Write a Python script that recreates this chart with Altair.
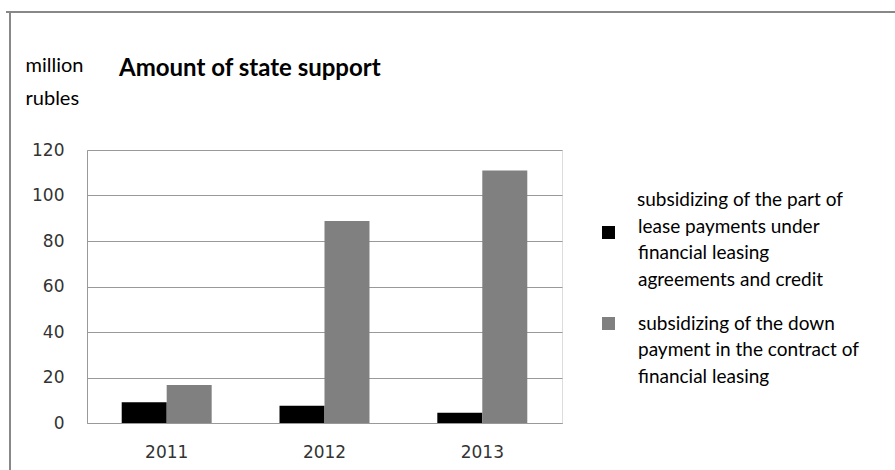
import altair as alt
import pandas as pd

chart_title = "Amount of state support"
unit_lines = ["million", "rubles"]
years = ["2011", "2012", "2013"]
series_names = [
    "subsidizing of the part of|lease payments under|financial leasing|agreements and credit",
    "subsidizing of the down|payment in the contract of|financial leasing",
]
series_colors = ["#000000", "#808080"]
lease_payments = [9.1, 7.6, 4.5]
down_payment = [16.7, 88.8, 111.0]
y_ticks = [0, 20, 40, 60, 80, 100, 120]

rows = []
for i, yr in enumerate(years):
    rows.append({"year": yr, "series": series_names[0], "value": lease_payments[i]})
    rows.append({"year": yr, "series": series_names[1], "value": down_payment[i]})
df = pd.DataFrame(rows)

W, H = 475, 273
PAD_L, PAD_T = 87, 150
TXT_FONT = "Lato"
LEG_SIZE = 19

base = alt.Chart(df).mark_bar(size=45).encode(
    x=alt.X("year:N", sort=years,
            scale=alt.Scale(paddingInner=0.43, paddingOuter=0.22),
            axis=alt.Axis(title=None, labelAngle=0, ticks=False, grid=False,
                          domainColor="#999999", labelPadding=21,
                          labelFont="DejaVu Sans", labelFontSize=17, labelColor="#333333")),
    xOffset=alt.XOffset("series:N", scale=alt.Scale(domain=series_names)),
    y=alt.Y("value:Q", scale=alt.Scale(domain=[0, 120], nice=False),
            axis=alt.Axis(values=y_ticks, ticks=False, grid=True, gridColor="#999999",
                          domainColor="#999999", labelPadding=23,
                          labelFont="DejaVu Sans", labelFontSize=17, labelColor="#333333",
                          title=unit_lines, titleAngle=0, titleAlign="left",
                          titleBaseline="alphabetic", titleX=-62, titleY=-79,
                          titleFont=TXT_FONT, titleFontSize=20, titleFontWeight="normal",
                          titleColor="#000000", titleLineHeight=33)),
)

first_title = series_names[0].split("|")[0]

bars_a = base.transform_filter(alt.datum.series == series_names[0]).encode(
    color=alt.Color("series:N",
                    scale=alt.Scale(domain=[series_names[0]], range=[series_colors[0]]),
                    legend=alt.Legend(title=first_title, orient="none",
                                      legendX=550, legendY=41,
                                      titleFont=TXT_FONT, titleFontSize=LEG_SIZE,
                                      titleFontWeight="normal", titleColor="#000000",
                                      titleLimit=400, titlePadding=13,
                                      labelExpr="slice(split(datum.label, '|'), 1)",
                                      labelBaseline="alphabetic",
                                      symbolType="square", symbolSize=169,
                                      symbolStrokeWidth=0, symbolOffset={"expr": "-38"},
                                      labelOffset=20,
                                      labelFont=TXT_FONT, labelFontSize=LEG_SIZE,
                                      labelLimit=400, labelColor="#000000", padding=0)),
)
bars_b = base.transform_filter(alt.datum.series == series_names[1]).encode(
    color=alt.Color("series:N",
                    scale=alt.Scale(domain=[series_names[1]], range=[series_colors[1]]),
                    legend=alt.Legend(title=None, orient="none",
                                      legendX=550, legendY=164,
                                      labelExpr="split(datum.label, '|')",
                                      labelBaseline="middle",
                                      symbolType="square", symbolSize=169,
                                      symbolStrokeWidth=0, symbolOffset={"expr": "-38"},
                                      labelOffset=20,
                                      labelFont=TXT_FONT, labelFontSize=LEG_SIZE,
                                      labelLimit=400, labelColor="#000000", padding=0)),
)

title_mark = alt.Chart(alt.Data(values=[{"t": chart_title}])).mark_text(
    align="left", baseline="alphabetic", font=TXT_FONT, fontSize=24,
    fontWeight="bold", color="#000000",
).encode(text="t:N", x=alt.value(32), y=alt.value(-74))

frame_data = alt.Data(values=[{"k": 1}])
frame_top = alt.Chart(frame_data).mark_rule(color="#888888", strokeWidth=2).encode(
    x=alt.value(10 - PAD_L - 4), x2=alt.value(895 - PAD_L),
    y=alt.value(12 - PAD_T), y2=alt.value(12 - PAD_T))
frame_left = alt.Chart(frame_data).mark_rule(color="#888888", strokeWidth=2).encode(
    x=alt.value(10 - PAD_L), x2=alt.value(10 - PAD_L),
    y=alt.value(12 - PAD_T), y2=alt.value(470 - PAD_T))

chart = alt.layer(bars_a, bars_b, title_mark, frame_top, frame_left).resolve_scale(
    color="independent"
).resolve_legend(color="independent").properties(
    width=W, height=H,
    padding={"left": PAD_L, "top": PAD_T, "right": 895 - PAD_L - W, "bottom": 470 - PAD_T - H},
    autosize=alt.AutoSizeParams(type="none"),
).configure_view(stroke=None).configure(
    background="#ffffff",
    style={"guide-label": {"lineHeight": 26.5}},
)

chart.save("out.html", embed_options={"renderer": "svg", "actions": False})
